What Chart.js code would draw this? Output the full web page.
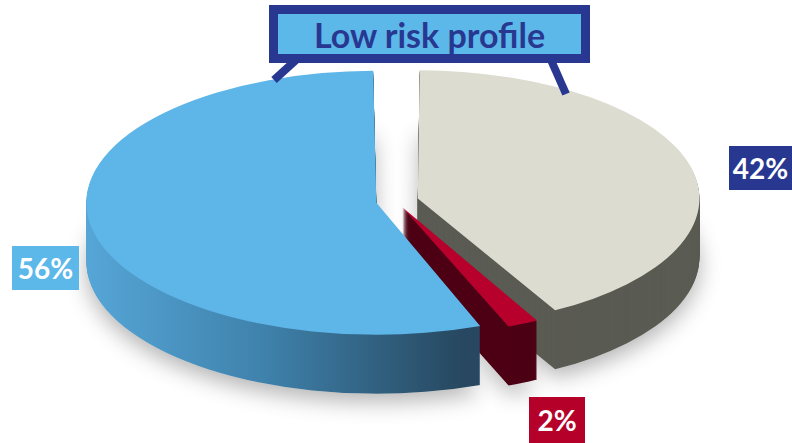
<!DOCTYPE html>
<html>
<head>
<meta charset="utf-8">
<script src="https://cdn.jsdelivr.net/npm/chart.js@4.4.1/dist/chart.umd.min.js"></script>
<style>
  html, body { margin: 0; padding: 0; background: #fff; }
  #wrap { position: relative; width: 792px; height: 443px; overflow: hidden; font-family: Lato, "Open Sans", sans-serif; }
  #wrap canvas { position: absolute; left: 0; top: 0; }
  .lbl { position: absolute; color: #fff; font-weight: bold; font-size: 28px; text-align: center; display: flex; align-items: center; justify-content: center; }
  #title { position: absolute; left: 269px; top: 5px; width: 303px; height: 40px; border: 9px solid #283891; background: #5DB8EA;
           color: #283891; font-weight: bold; font-size: 34px; display: flex; align-items: center; justify-content: center; }
  svg { position: absolute; left: 0; top: 0; }
</style>
</head>
<body>
<div id="wrap">
  <canvas id="pie" width="792" height="443"></canvas>
  <svg width="792" height="443">
    <line x1="296" y1="60" x2="274" y2="80" stroke="#283891" stroke-width="8"/>
    <line x1="551" y1="60" x2="566" y2="94" stroke="#283891" stroke-width="8"/>
  </svg>
  <div id="title"></div>
  <div class="lbl" id="l0" style="left:729px;top:146px;width:63px;height:44px;background:#283891;"></div>
  <div class="lbl" id="l1" style="left:529px;top:397px;width:56px;height:46px;background:#B5002A;"></div>
  <div class="lbl" id="l2" style="left:12px;top:246px;width:67px;height:44px;background:#5DB8EA;"></div>
</div>
<script>
// data
const title = 'Low risk profile';
const labels = ['Other', 'Mid', 'Low'];
const values = [42, 2, 56];
const topColors = ['#DCDCD0', '#B8002C', '#5EB6E8'];
const sideColors = ['#5A5B53', '#4D0014', null];
const explode = [90, 60, 80];

const squash = 0.455;
const depth = 59;

document.getElementById('title').textContent = title;
values.forEach((v, i) => { document.getElementById('l' + i).textContent = v + '%'; });

function sideFill(ctx, i) {
  if (sideColors[i]) return sideColors[i];
  const g = ctx.createLinearGradient(85, 0, 480, 0);
  g.addColorStop(0, '#58AADC');
  g.addColorStop(0.5, '#3F82AC');
  g.addColorStop(1, '#274860');
  return g;
}

function squashAt(ctx, cx, cy) {
  ctx.translate(cx, cy);
  ctx.scale(1, squash);
  ctx.translate(-cx, -cy);
}

const pie3d = {
  id: 'pie3d',
  beforeDatasetsDraw(chart) {
    const ctx = chart.ctx;
    const arcs = chart.getDatasetMeta(0).data;
    const cx = arcs[0].x, cy = arcs[0].y;
    // soft shadow under the pie
    ctx.save();
    ctx.shadowColor = 'rgba(0,0,0,0.3)';
    ctx.shadowBlur = 22;
    ctx.shadowOffsetY = 8;
    ctx.translate(0, depth);
    squashAt(ctx, cx, cy);
    arcs.forEach((arc, i) => {
      const o = arc.options;
      arc.options = Object.assign({}, o, {backgroundColor: '#ddd', borderWidth: 0});
      arc.draw(ctx);
      arc.options = o;
    });
    ctx.restore();
    // sides, back to front
    arcs.forEach((arc, i) => {
      const o = arc.options;
      arc.options = Object.assign({}, o, {backgroundColor: sideFill(ctx, i), borderWidth: 0});
      for (let d = depth; d >= 1; d--) {
        ctx.save();
        ctx.translate(0, d);
        squashAt(ctx, cx, cy);
        arc.draw(ctx);
        ctx.restore();
      }
      arc.options = o;
    });
    ctx.save();
    squashAt(ctx, cx, cy);
  },
  afterDatasetsDraw(chart) {
    chart.ctx.restore();
  }
};

new Chart(document.getElementById('pie'), {
  type: 'pie',
  data: {
    labels: labels,
    datasets: [{
      data: values,
      backgroundColor: topColors,
      borderWidth: 0,
      offset: explode
    }]
  },
  options: {
    responsive: false,
    animation: false,
    radius: 270,
    layout: { padding: { bottom: 41 } },
    plugins: { legend: { display: false }, tooltip: { enabled: false } },
    events: []
  },
  plugins: [pie3d]
});
</script>
</body>
</html>
